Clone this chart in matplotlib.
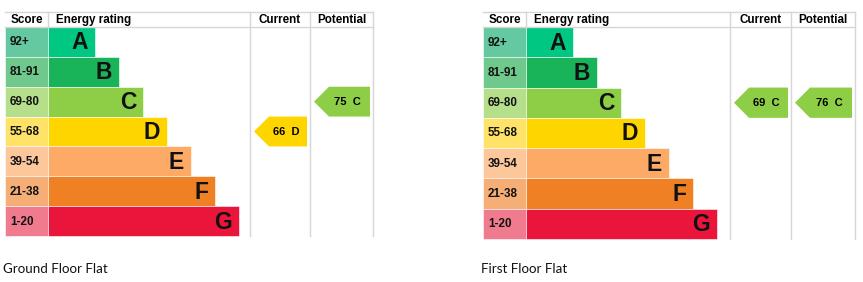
import matplotlib
matplotlib.use("Agg")
import matplotlib.pyplot as plt
from matplotlib.patches import Polygon

# ---- data ----
bands = ["A", "B", "C", "D", "E", "F", "G"]
score_ranges = ["92+", "81-91", "69-80", "55-68", "39-54", "21-38", "1-20"]
band_lows = [92, 81, 69, 55, 39, 21, 1]
band_colours = ["#00c781", "#19b459", "#8dce46", "#ffd500", "#fcaa65", "#ef8023", "#e9153b"]
score_colours = ["#64c9a0", "#70c98c", "#b5df8b", "#ffe369", "#fdc79c", "#f4ae76", "#f07a8e"]

captions = ["Ground Floor Flat", "First Floor Flat"]
current_scores = [66, 69]
potential_scores = [75, 76]

# layout of each chart in pixels: left, right, current col, potential col, bottom
layouts = [
    dict(x0=5, x1=373, cur=250, pot=310, bottom=236, cap_x=3),
    dict(x0=483, x1=855, cur=730, pot=791, bottom=239, cap_x=481),
]

W, H = 863, 282
GRID = "#d6d6d6"
BOLD = dict(family=["Liberation Sans", "DejaVu Sans"], fontweight="bold")


def band_of(score):
    for i, low in enumerate(band_lows):
        if score >= low:
            return i
    return len(bands) - 1


def arrow(ax, x_left, x_right, y_top, y_bot, colour, label):
    mid = (y_top + y_bot) / 2
    shoulder = x_left + 15
    pts = [(x_left, mid), (shoulder, y_top), (x_right, y_top),
           (x_right, y_bot), (shoulder, y_bot)]
    ax.add_patch(Polygon(pts, closed=True, facecolor=colour, edgecolor="none"))
    ax.text((shoulder + x_right) / 2 - 2, mid + 0.5, label, ha="center", va="center",
            fontsize=8, color="black", **BOLD)


fig = plt.figure(figsize=(W / 100, H / 100), dpi=100)
ax = fig.add_axes([0, 0, 1, 1])
ax.set_xlim(0, W)
ax.set_ylim(H, 0)
ax.axis("off")

top, head = 12, 27
for k, lay in enumerate(layouts):
    x0, x1, cur, pot, bottom = lay["x0"], lay["x1"], lay["cur"], lay["pot"], lay["bottom"]
    score_w = 43
    row_h = (bottom - head) / len(bands)
    ys = [head + (i + 0.5) * row_h for i in range(len(bands))]
    lengths = [47 + i * 24 for i in range(len(bands))]

    # score column and rating bars
    ax.barh(ys, [score_w] * len(bands), height=row_h, left=x0,
            color=score_colours, edgecolor="white", linewidth=0.4)
    ax.barh(ys, lengths, height=row_h, left=x0 + score_w,
            color=band_colours, edgecolor="white", linewidth=0.4)
    for i, b in enumerate(bands):
        ax.text(x0 + 5, ys[i] + 0.5, score_ranges[i], ha="left", va="center",
                fontsize=8.4, color="#111111", **BOLD)
        ax.text(x0 + score_w + lengths[i] - 7, ys[i] + 1, b, ha="right", va="center",
                fontsize=16.5, color="#111111", **BOLD)

    # grid lines
    ax.plot([x0, x1], [top, top], color=GRID, lw=1)
    ax.plot([x0, x1], [head - 0.5, head - 0.5], color=GRID, lw=1)
    ax.plot([x0 + score_w, x0 + score_w], [top, head], color=GRID, lw=1)
    for xv in (cur, pot, x1):
        ax.plot([xv, xv], [top, bottom], color=GRID, lw=1)

    # headers
    hy = (top + head) / 2 + 0.5
    ax.text(x0 + score_w / 2, hy, "Score", ha="center", va="center", fontsize=8.4, **BOLD)
    ax.text(x0 + score_w + 8, hy, "Energy rating", ha="left", va="center", fontsize=8.4, **BOLD)
    ax.text((cur + pot) / 2, hy, "Current", ha="center", va="center", fontsize=8.4, **BOLD)
    ax.text((pot + x1) / 2, hy, "Potential", ha="center", va="center", fontsize=8.4, **BOLD)

    # current / potential arrows
    for score, (xl, xr) in ((current_scores[k], (cur, pot)), (potential_scores[k], (pot, x1))):
        i = band_of(score)
        arrow(ax, xl + 4, xr - 3, head + i * row_h, head + (i + 1) * row_h,
              band_colours[i], f"{score}  {bands[i]}")

    ax.text(lay["cap_x"], 269, captions[k], ha="left", va="center", fontsize=9.6,
            family=["Lato", "DejaVu Sans"], color="#111111")

fig.savefig("out.png", dpi=100)
